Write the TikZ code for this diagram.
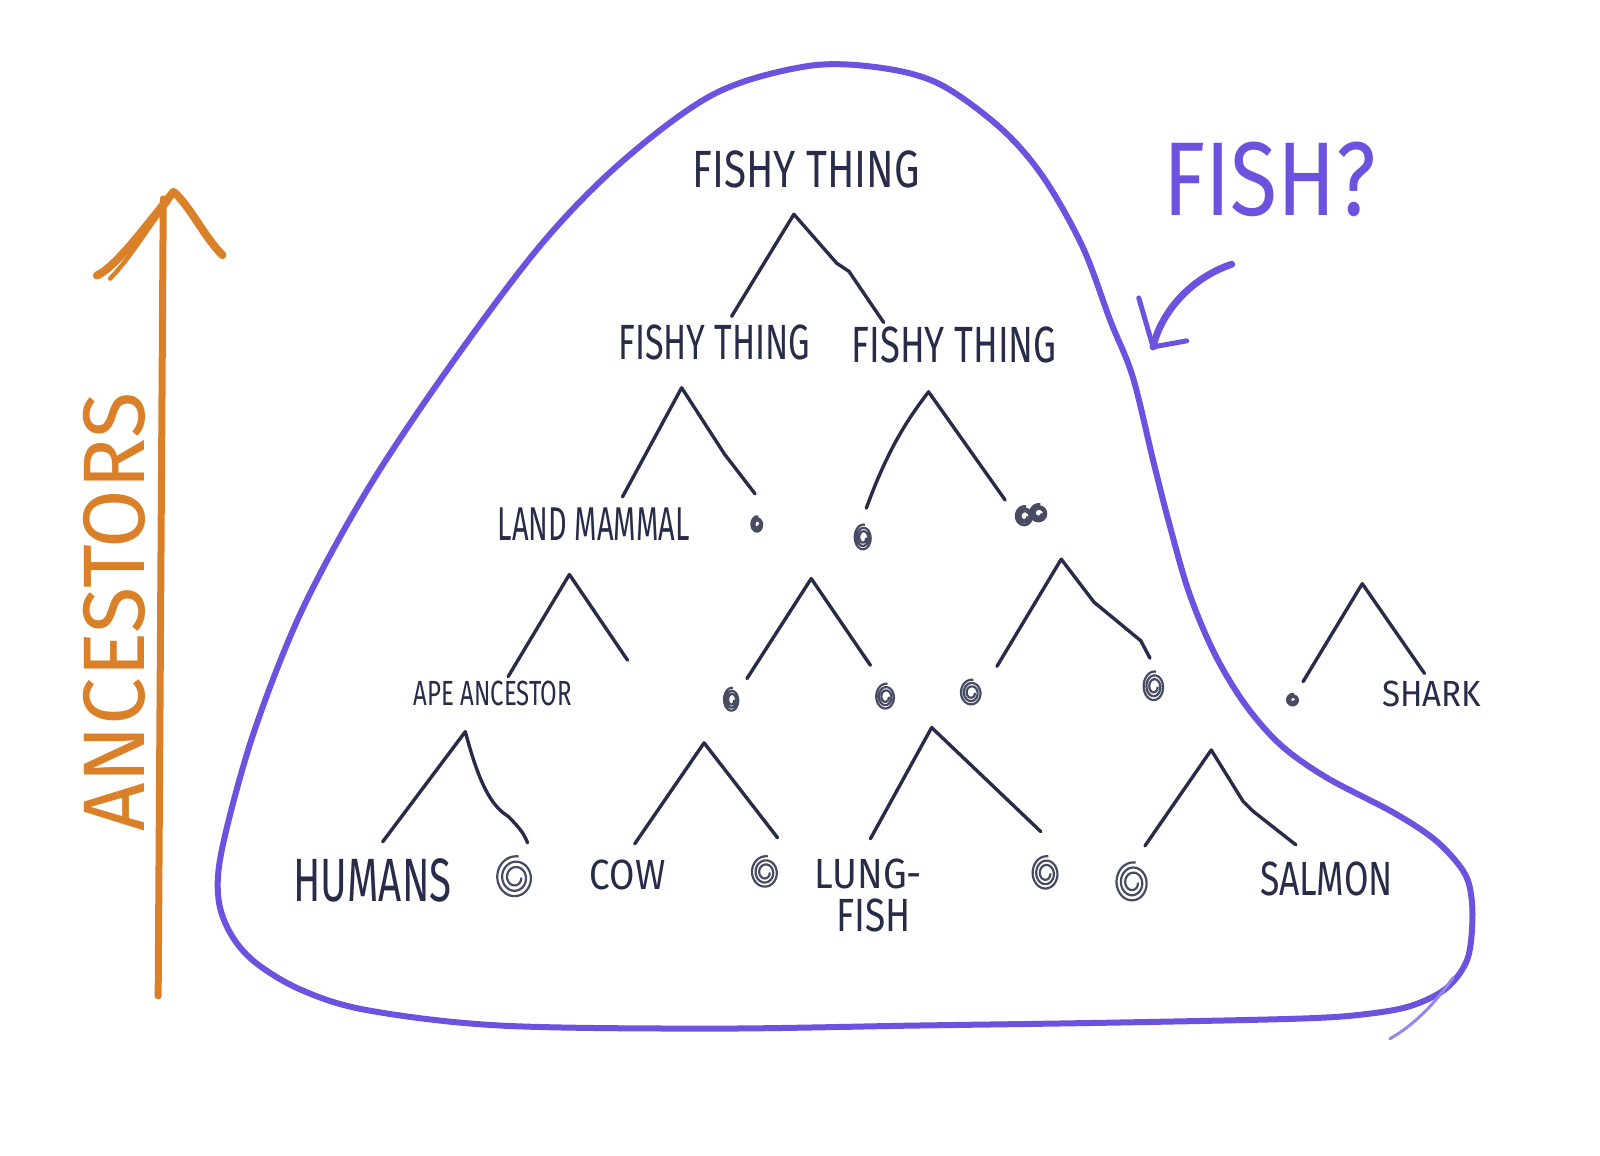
\documentclass[tikz,border=0pt]{standalone}
\usepackage{fontspec}
\setmainfont{Fira Sans}
\usepackage{graphicx}
\newlength\upx
\setlength\upx{1.0204pt}
\newcommand\hw[3]{\resizebox{#1\upx}{#2\upx}{#3}}
\definecolor{ink}{RGB}{40,44,72}
\definecolor{blobc}{RGB}{108,82,222}
\definecolor{orng}{RGB}{218,128,40}
\tikzset{
  leg/.style={draw=ink, line width=3.4pt, line cap=round, line join=round},
  lbl/.style={inner sep=0pt, text=ink},
  swirlstyle/.style={draw=ink!85, line width=2.2pt},
  blobline/.style={draw=blobc, line width=6pt, line cap=round},
  orangeline/.style={draw=orng, line width=7pt, line cap=round, line join=round},
}
\newcommand\myswirl[5]{%
  \coordinate (#1) at (#2,#3);
  \draw[swirlstyle] plot[domain=0:1000,samples=110,smooth,variable=\t]
    ({#2+#4*(0.3+0.7*\t/1000)*cos(\t)},{#3+#5*(0.3+0.7*\t/1000)*sin(\t)});}
\begin{document}
\begin{tikzpicture}[x=1.0204pt,y=-1.0204pt]
\useasboundingbox (0,0) rectangle (1568,1132);
\fill[white] (0,0) rectangle (1568,1132);

% ---------- blob ----------
\draw[blobline] plot[smooth cycle, tension=0.55] coordinates {
 (790,65) (700,92) (610,158) (530,240) (440,360) (360,480) (295,600)
 (248,720) (218,830) (214,880) (226,915) (250,943) (295,970) (360,990)
 (490,1005) (700,1008) (900,1005) (1100,1002) (1280,998) (1345,993)
 (1385,985) (1418,968) (1438,940) (1443,900) (1440,868) (1430,848)
 (1405,822) (1365,796) (1300,762) (1255,730) (1220,690) (1190,640)
 (1165,580) (1145,510) (1130,451) (1110,369) (1088,314) (1061,242)
 (1022,173) (980,125) (920,82) (860,66)};
\coordinate (tailA) at (1424,958);
\coordinate (tailB) at (1362,1018);
\draw[draw=blobc!70, line width=3pt, line cap=round] (tailA) .. controls (1405,985) and (1385,1005) .. (tailB);

% ---------- labels ----------
\node[lbl] (ft0) at (790,166) {\hw{223}{36}{FISHY THING}};
\node[lbl] (ft1) at (700,336) {\hw{188}{34}{FISHY THING}};
\node[lbl] (ft2) at (935,338) {\hw{201}{35}{FISHY THING}};
\node[lbl] (land) at (582,514) {\hw{188}{32}{LAND MAMMAL}};
\node[lbl] (ape) at (483,680) {\hw{155}{24}{APE ANCESTOR}};
\node[lbl] (shark) at (1403,680) {\hw{97}{25}{SHARK}};
\node[lbl] (hum) at (365,863) {\hw{155}{42}{HUMANS}};
\node[lbl] (cow) at (615,857) {\hw{74}{29}{COW}};
\node[lbl] (lung) at (851,856) {\hw{105}{29}{LUNG-}};
\node[lbl] (lfish) at (856,897) {\hw{73}{32}{FISH}};
\node[lbl] (salmon) at (1300,861) {\hw{130}{33}{SALMON}};
\node[inner sep=0pt, text=blobc] (fishq) at (1244,176) {\hw{208}{72}{FISH?}};
\node[inner sep=0pt, text=orng, rotate=90] (anc) at (112,600) {\hw{430}{60}{ANCESTORS}};

% ---------- swirls ----------
\myswirl{s1}{742}{514}{6}{8}
\myswirl{s2}{846}{527}{9}{13}
\myswirl{s3a}{1004}{506}{9}{10}
\myswirl{s3b}{1018}{503}{9}{9}
\myswirl{s4}{717}{686}{8}{12}
\myswirl{s5}{868}{683}{10}{13}
\myswirl{s6}{952}{679}{11}{13}
\myswirl{s7}{1131}{673}{11}{15}
\myswirl{s8}{1267}{686}{6}{6}
\myswirl{s9}{505}{860}{19}{21}
\myswirl{s10}{750}{855}{14}{16}
\myswirl{s11}{1025}{856}{14}{17}
\myswirl{s12}{1110}{865}{17}{20}

% ---------- trees ----------
% top
\coordinate (a1) at (778,210); \coordinate (l1) at (717,310); \coordinate (r1) at (866,316);
\draw[leg] (l1) -- (a1) -- (820,258) -- (832,266) -- (r1);
% level 2
\coordinate (a2) at (668,380); \coordinate (l2) at (610,487); \coordinate (r2) at (740,484);
\draw[leg] (l2) -- (a2) -- (710,445) -- (r2);
\coordinate (a3) at (910,384); \coordinate (l3) at (849,498); \coordinate (r3) at (985,490);
\draw[leg] (l3) .. controls (870,440) and (890,410) .. (a3) -- (r3);
% level 3
\coordinate (a4) at (558,563); \coordinate (l4) at (498,663); \coordinate (r4) at (615,647);
\draw[leg] (l4) -- (a4) -- (r4);
\coordinate (a5) at (795,567); \coordinate (l5) at (732,665); \coordinate (r5) at (853,652);
\draw[leg] (l5) -- (a5) -- (r5);
\coordinate (a6) at (1040,548); \coordinate (l6) at (977,653); \coordinate (r6) at (1127,645);
\draw[leg] (l6) -- (a6) -- (1072,590) -- (1118,628) -- (r6);
\coordinate (a7) at (1335,572); \coordinate (l7) at (1277,668); \coordinate (r7) at (1396,660);
\draw[leg] (l7) -- (a7) -- (r7);
% level 4
\coordinate (a8) at (456,717); \coordinate (l8) at (375,825); \coordinate (r8) at (517,826);
\draw[leg] (l8) -- (a8) .. controls (470,770) and (482,790) .. (498,800) .. controls (510,812) and (514,818) .. (r8);
\coordinate (a9) at (690,728); \coordinate (l9) at (622,827); \coordinate (r9) at (762,821);
\draw[leg] (l9) -- (a9) -- (r9);
\coordinate (a10) at (913,713); \coordinate (l10) at (853,822); \coordinate (r10) at (1020,815);
\draw[leg] (l10) -- (a10) -- (r10);
\coordinate (a11) at (1187,735); \coordinate (l11) at (1122,829); \coordinate (r11) at (1270,828);
\draw[leg] (l11) -- (a11) -- (1218,785) -- (1228,795) -- (r11);

% ---------- orange arrow ----------
\coordinate (ob) at (155,976);
\coordinate (ot) at (160,195);
\coordinate (oapex) at (170,188);
\coordinate (obl) at (95,270);
\coordinate (obr) at (218,250);
\draw[orangeline] (ob) -- (ot);
\draw[orangeline, line width=8pt] (obl) .. controls (112,262) and (135,232) .. (oapex)
  .. controls (185,200) and (200,232) .. (obr);
\draw[draw=orng, line width=4.5pt, line cap=round] (108,273) .. controls (130,250) and (150,215) .. (165,198);
\draw[draw=orng, line width=5pt, line cap=round] (180,200) .. controls (195,215) and (205,240) .. (214,246);

% ---------- purple curved arrow ----------
\coordinate (pa) at (1207,259);
\coordinate (pt) at (1130,340);
\coordinate (pb1) at (1116,292);
\coordinate (pb2) at (1163,334);
\draw[draw=blobc, line width=7pt, line cap=round, line join=round] (pa) .. controls (1168,272) and (1138,305) .. (pt);
\draw[draw=blobc, line width=5pt, line cap=round, line join=round] (pb1) -- (pt) -- (pb2);
\end{tikzpicture}
\end{document}
